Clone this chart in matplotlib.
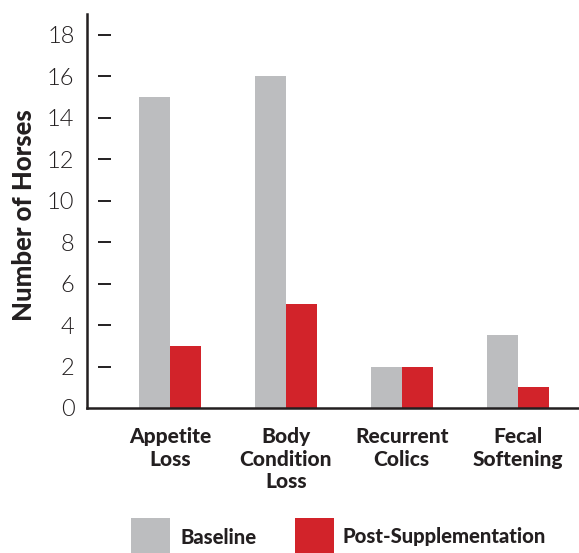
import matplotlib
matplotlib.use("Agg")
import matplotlib.pyplot as plt
import matplotlib.transforms as mtransforms
from matplotlib.patches import Rectangle
import numpy as np

categories = ["Appetite\nLoss", "Body\nCondition\nLoss", "Recurrent\nColics", "Fecal\nSoftening"]
baseline = [15, 16, 2, 3.5]
post_supp = [3, 5, 2, 1]
y_ticks = [0, 2, 4, 6, 8, 10, 12, 14, 16, 18]
series_names = ["Baseline", "Post-Supplementation"]

GRAY = "#BCBDBF"
RED = "#D2232A"
DARK = "#231F20"

W, H = 579, 553
fig = plt.figure(figsize=(W / 100, H / 100), dpi=100)
ax = fig.add_axes([87 / W, 1 - 408 / H, (W - 87) / W, (408 - 14) / H])

x = np.arange(len(categories))
bw = 0.267
ax.bar(x - bw / 2, baseline, width=bw, color=GRAY, linewidth=0)
ax.bar(x + bw / 2, post_supp, width=bw, color=RED, linewidth=0)

ax.set_xlim(-0.716, 3.53)
ax.set_ylim(0, 19)

for s in ["top", "right"]:
    ax.spines[s].set_visible(False)
for s in ["left", "bottom"]:
    ax.spines[s].set_color(DARK)
    ax.spines[s].set_linewidth(1.8)

ax.set_yticks(y_ticks)
ax.set_yticklabels([str(t) for t in y_ticks], fontsize=17, family="Lato",
                   fontweight=300, color=DARK)
ax.tick_params(axis="y", length=0, pad=9)

# detached tick dashes
trans = mtransforms.blended_transform_factory(ax.transAxes, ax.transData)
x0 = (98 - 87) / (W - 87)
x1 = (111 - 87) / (W - 87)
for t in y_ticks[1:]:
    ax.plot([x0, x1], [t, t], transform=trans, color=DARK, lw=1.4,
            solid_capstyle="butt", clip_on=False)

ax.set_xticks(x)
ax.set_xticklabels(categories, fontsize=15, family="Lato", fontweight=900,
                   color=DARK, linespacing=1.2)
ax.tick_params(axis="x", length=0, pad=14)

fig.text(24 / W, 1 - 215 / H, "Number of Horses", rotation=90, ha="center",
         va="center", fontsize=18.5, family="Lato", fontweight=900, color=DARK)

# legend
for (lx, name, col, tx) in [(131, series_names[0], GRAY, 180), (295, series_names[1], RED, 343)]:
    fig.add_artist(Rectangle((lx / W, 0), 39 / W, (553 - 518) / H,
                             transform=fig.transFigure, color=col, lw=0))
    fig.text(tx / W, 1 - 537 / H, name, ha="left", va="center", fontsize=14.6,
             family="Lato", fontweight=900, color=DARK)

fig.savefig("out.png", dpi=100)
